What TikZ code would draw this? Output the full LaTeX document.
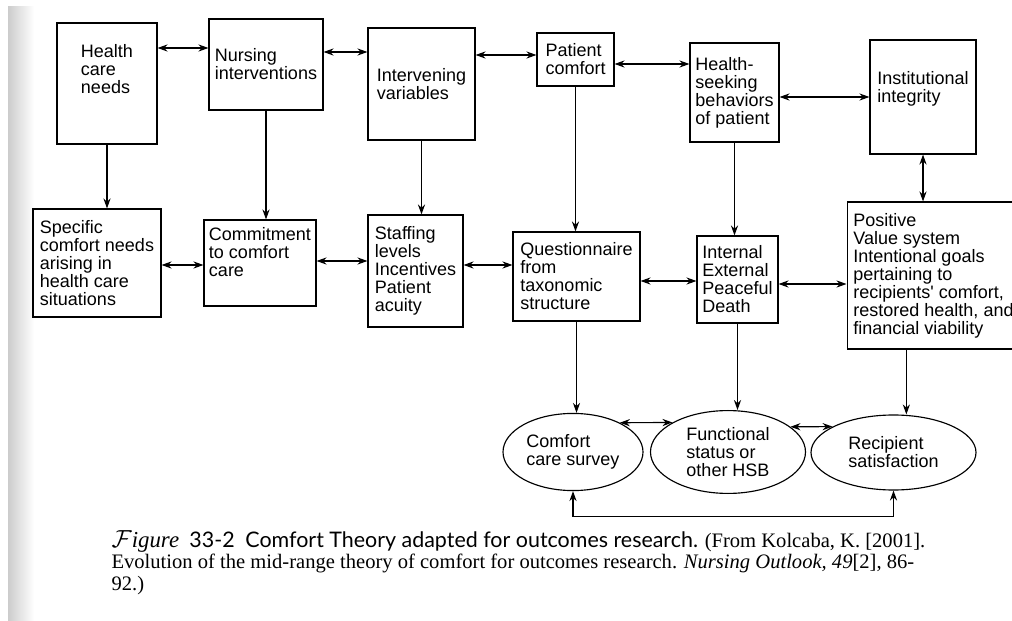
\documentclass[tikz,border=0pt]{standalone}
\usepackage{fontspec}
\setmainfont{Liberation Serif}
\newfontfamily\boxfont{Liberation Sans}
\newfontfamily\capfont{Lato}
\usetikzlibrary{positioning}
\usetikzlibrary{shapes.geometric}
\usetikzlibrary{arrows.meta}

\begin{document}
\begin{tikzpicture}
      [x=0.7pt,y=-0.7pt,line width=0.8pt,
       every node/.style={font=\boxfont\fontsize{12.6}{12.6}\selectfont, align=left},
       stage/.style={draw, rectangle, inner sep=0pt},
       outcome/.style={draw, ellipse, inner sep=0pt},
       tip/.style={-{Stealth[length=7pt,width=5pt]}},
       dbl/.style={{Stealth[length=7pt,width=5pt]}-{Stealth[length=7pt,width=5pt]}}]
    \useasboundingbox (0,0) rectangle (1012,621);
    \clip (0,0) rectangle (1012,621);
    \shade[left color=black!20, right color=white, draw=none] (8,7) rectangle (34,621);

    % top row
    \node[stage, minimum width=70pt, minimum height=84.7pt] (hcn) at (107,83.5) {Health\\care\\needs\\[8.4pt]\mbox{}};
    \node[stage, minimum width=79.8pt, minimum height=63.7pt] (ni) at (266,64.5) {Nursing\\interventions};
    \node[stage, minimum width=74.9pt, minimum height=78.4pt] (iv) at (421.5,84) {Intervening\\variables};
    \node[stage, minimum width=53.9pt, minimum height=37.1pt] (pc) at (575.5,59.5) {Patient\\comfort};
    \node[stage, minimum width=62.3pt, minimum height=69.3pt] (hsb) at (734.5,92.5) {Health-\\seeking\\behaviors\\of patient};
    \node[stage, minimum width=74.2pt, minimum height=79.8pt] (ii) at (923,97) {Institutional\\integrity\\[1.4pt]\mbox{}};

    % middle row
    \node[stage, minimum width=89.6pt, minimum height=75.6pt] (scn) at (97,263) {Specific\\comfort needs\\arising in\\health care\\situations};
    \node[stage, minimum width=78.4pt, minimum height=60.2pt] (cc) at (260,263) {Commitment\\to comfort\\care\\[2.8pt]\mbox{}};
    \node[stage, minimum width=66.5pt, minimum height=78.4pt] (sl) at (415.5,271) {Staffing\\levels\\Incentives\\Patient\\acuity};
    \node[stage, minimum width=88.9pt, minimum height=62.3pt] (qt) at (576.5,276.5) {Questionnaire\\from\\taxonomic\\structure};
    \node[stage, minimum width=56.7pt, minimum height=60.9pt] (ied) at (737.5,279.5) {Internal\\External\\Peaceful\\Death};
    \node[stage, minimum width=121pt, minimum height=102.9pt] (pv) at (933.5,275.5) {Positive\\Value system\\Intentional goals\\pertaining to\\recipients' comfort,\\restored health, and\\financial viability};

    % outcomes
    \node[outcome, minimum width=98pt, minimum height=54pt] (ccs) at (573,452) {Comfort\\care survey};
    \node[outcome, minimum width=108.5pt, minimum height=58pt] (fs) at (728,452) {Functional\\status or\\other HSB};
    \node[outcome, minimum width=115.5pt, minimum height=52.5pt] (rs) at (893.5,452.5) {Recipient\\satisfaction};

    % caption
    \node[anchor=north west, inner sep=0pt, font=\rmfamily\fontsize{14.4}{15}\selectfont] (cap) at (111,530)
      {{\fontsize{16}{15}\selectfont\itshape$\mathcal{F}$igure}\enspace{\capfont\fontsize{15}{15}\selectfont 33-2\enspace Comfort Theory adapted for outcomes research.} (From Kolcaba, K. [2001].\\
       Evolution of the mid-range theory of comfort for outcomes research. \textit{Nursing Outlook, 49}[2], 86-\\
       92.)};

    % links along the rows
    \draw[dbl] (hcn.east |- 0,48) -- (ni.west |- 0,48);
    \draw[dbl] (ni.east |- 0,52) -- (iv.west |- 0,52);
    \draw[dbl] (iv.east |- 0,55) -- (pc.west |- 0,55);
    \draw[dbl] (pc.east |- 0,64) -- (hsb.west |- 0,64);
    \draw[dbl] (hsb.east |- 0,97) -- (ii.west |- 0,97);
    \draw[dbl] (scn.east |- 0,265) -- (cc.west |- 0,265);
    \draw[dbl] (cc.east |- 0,261) -- (sl.west |- 0,261);
    \draw[dbl] (sl.east |- 0,265) -- (qt.west |- 0,265);
    \draw[dbl] (qt.east |- 0,281) -- (ied.west |- 0,281);
    \draw[dbl] (ied.east |- 0,284) -- (pv.west |- 0,284);
    \draw[dbl] (ccs.32) -- (fs.152);
    \draw[dbl] (fs.22) -- (rs.157);
    \draw[dbl] (ccs.south) -- ++(0,25) -| (rs.south);

    % links down the columns
    \draw[tip] (hcn.south) -- (hcn.south |- scn.north);
    \draw[tip] (ni.south) -- (ni.south |- cc.north);
    \draw[tip] (iv.south) -- (iv.south |- sl.north);
    \draw[tip] (pc.south) -- (pc.south |- qt.north);
    \draw[tip] (hsb.south) -- (hsb.south |- ied.north);
    \draw[dbl] (ii.south) -- (ii.south |- pv.north);
    \draw[tip] (qt.south) -- (qt.south |- ccs.north);
    \draw[tip] (ied.south) -- (ied.south |- fs.north);
    \draw[tip] ([xshift=-19pt]pv.south) -- ([xshift=-19pt]pv.south |- rs.north);
\end{tikzpicture}
\end{document}
